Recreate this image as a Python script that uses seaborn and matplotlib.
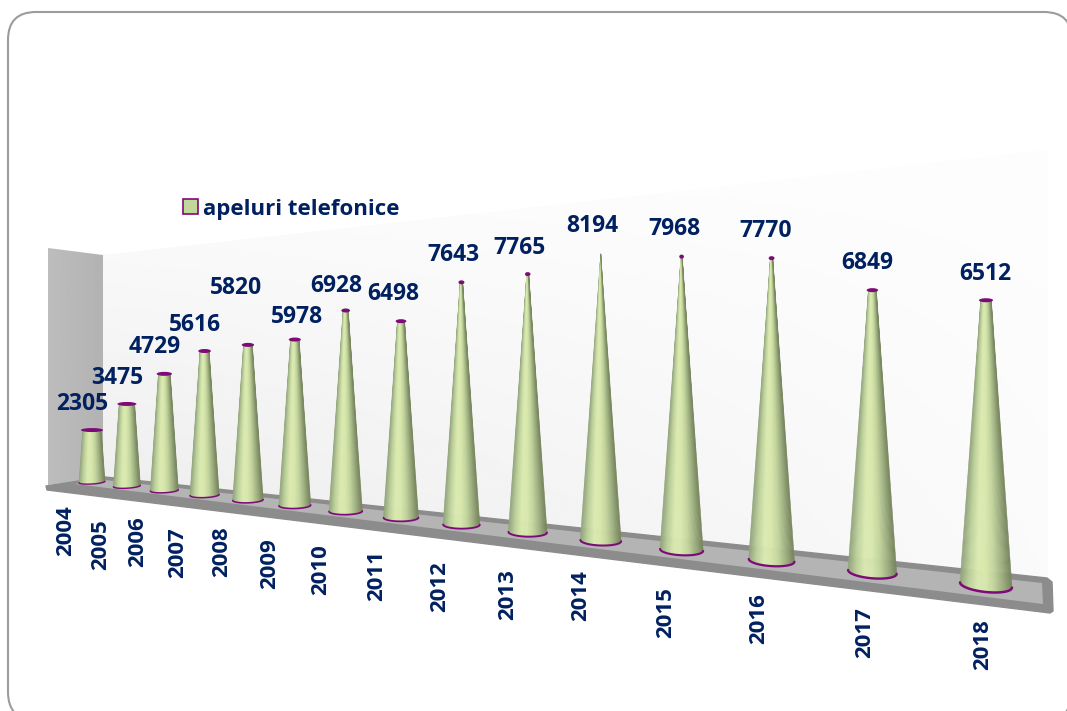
import numpy as np
import pandas as pd
import seaborn as sns
import matplotlib
matplotlib.use("Agg")
import matplotlib.pyplot as plt
from matplotlib.collections import PolyCollection
from matplotlib.patches import FancyBboxPatch, Polygon, Ellipse, Patch

years = [2004, 2005, 2006, 2007, 2008, 2009, 2010, 2011, 2012, 2013, 2014, 2015, 2016, 2017, 2018]
calls = [2305, 3475, 4729, 5616, 5820, 5978, 6928, 6498, 7643, 7765, 8194, 7968, 7770, 6849, 6512]
series_name = "apeluri telefonice"

# manual label offsets from the cone top / base (pixels), original chart had them hand placed
value_dx = [-10, -10, -10, -10, -12, 2, -9, -8, -8, -8, -8, -7, -6, -5, -1]
value_dy = [-26, -26, -27, -26, -57, -23, -24, -27, -27, -26, -28, -28, -27, -27, -26]
year_dx = [-26, -26, -27, -27, -26, -25, -25, -24, -22, -20, -20, -16, -13, -8, -3]
year_dy = [47, 56, 49, 55, 49, 56, 56, 55, 59, 59, 51, 59, 54, 56, 55]

NAVY = "#002060"
PURPLE = "#7d0a78"
GREEN = "#c3d69b"

sns.set_theme(style="white")
plt.rcParams["font.family"] = ["Open Sans", "DejaVu Sans"]
plt.rcParams["font.weight"] = "bold"

fig = plt.figure(figsize=(10.67, 7.11), dpi=100)
ax = fig.add_axes([0, 0, 1, 1])
ax.set_xlim(0, 1067)
ax.set_ylim(711, 0)
ax.axis("off")


# perspective of the 3d chart, everything is placed from these
def proj_x(i):
    return 92 + 33.73 * i / (1 - 0.0337 * i)


def floor_y(x):
    return 484 + 0.1186 * (x - 92)


def depth(x):
    return (x - 92) / 894


# ---------------- frame and walls ----------------
ax.add_patch(FancyBboxPatch((8, 12), 1064, 708, boxstyle="round,pad=0,rounding_size=28",
                            fc="white", ec="#9c9c9c", lw=1.5, zorder=0))

back = Polygon([(103, 255), (1048, 150), (1048, 580), (103, 478)], closed=True, fc="none", ec="none")
ax.add_patch(back)
gx, gy = np.meshgrid(np.linspace(0, 1, 200), np.linspace(0, 1, 200))
shade = 0.992 - 0.075 * gy * (1 - gx * 0.85)
img = ax.imshow(shade, extent=(103, 1048, 580, 150), cmap="gray", vmin=0, vmax=1,
                aspect="auto", zorder=1)
img.set_clip_path(back)
ax.set_xlim(0, 1067)
ax.set_ylim(711, 0)

side = Polygon([(48, 248), (103, 255), (103, 478), (48, 485)], closed=True, fc="none", ec="none")
ax.add_patch(side)
side_img = ax.imshow(np.linspace(0.74, 0.70, 50).reshape(1, -1), extent=(48, 103, 485, 248),
                     cmap="gray", vmin=0, vmax=1, aspect="auto", zorder=1)
side_img.set_clip_path(side)
ax.set_xlim(0, 1067)
ax.set_ylim(711, 0)

# floor
ax.add_patch(Polygon([(46, 486), (105, 477), (1047, 578), (1052, 582), (1053, 611), (1050, 613), (47, 490)],
                     closed=True, fc="#8c8c8c", ec="#8c8c8c", lw=1, joinstyle="round", zorder=2))
ax.add_patch(Polygon([(75, 484), (105, 480), (1042, 583), (1043, 604)],
                     closed=True, fc="#b4b4b4", ec="none", zorder=3))

# ---------------- cones ----------------
shades = sns.blend_palette(["#94a67e", "#bfd29c", "#dbeab1", "#d8e8ad", "#c3d59e", "#a0b182", "#7a8860"], 48)
max_call = max(calls)

for i, (year, val) in enumerate(zip(years, calls)):
    x = proj_x(i)
    d = depth(x)
    base_half = (26 + 26 * d) / 2
    top_half = base_half * (1 - val / max_call)
    y_base = floor_y(x) - (2 + 3 * d)
    y_top = floor_y(x) - val * (0.0234 + 0.0211 * d)
    rim_h = 2.0 + 5.0 * d
    tilt = -0.06 + 0.16 * d

    u = np.linspace(-1, 1, len(shades) + 1)
    bottom = y_base + tilt * base_half * u + rim_h * np.sqrt(1 - u ** 2)
    strips = []
    for k in range(len(shades)):
        strips.append([(x + top_half * u[k], y_top), (x + top_half * u[k + 1], y_top),
                       (x + base_half * u[k + 1], bottom[k + 1]), (x + base_half * u[k], bottom[k])])
    ax.add_collection(PolyCollection(strips, facecolors=shades, edgecolors=shades, linewidths=0.4,
                                     zorder=4 + i * 0.01))

    # purple rim under the cone
    t = np.linspace(-1.05, 1.05, 60).clip(-1, 1)
    rim = pd.DataFrame({"x": x + base_half * t,
                        "y": y_base + tilt * base_half * t + rim_h * np.sqrt(1 - t ** 2)})
    sns.lineplot(data=rim, x="x", y="y", estimator=None, sort=False, color=PURPLE,
                 linewidth=1.0 + 0.8 * d, ax=ax, zorder=5, legend=False)

    # flat cap on top, the tallest one ends in a point
    if val < max_call:
        ax.add_patch(Ellipse((x, y_top), 2 * top_half + 3.5, 4, fc=PURPLE, ec="none", zorder=6))

    ax.text(x + value_dx[i], y_top + value_dy[i], str(val), color=NAVY, fontsize=16.5, fontweight="bold",
            ha="center", va="center", zorder=7)
    ax.text(x + year_dx[i], floor_y(x) + year_dy[i], str(year), color=NAVY, fontsize=16, fontweight="bold",
            rotation=90, ha="center", va="center", zorder=7)

ax.set_xlabel("")
ax.set_ylabel("")

leg = ax.legend(handles=[Patch(fc=GREEN, ec=PURPLE, lw=1.2, label=series_name)],
                loc="center left", bbox_to_anchor=(163, 209), bbox_transform=ax.transData,
                frameon=False, fontsize=16, handlelength=0.66, handleheight=0.66, handletextpad=0.25)
for t in leg.get_texts():
    t.set_color(NAVY)
    t.set_fontweight("bold")

fig.savefig("out.png", dpi=100)
